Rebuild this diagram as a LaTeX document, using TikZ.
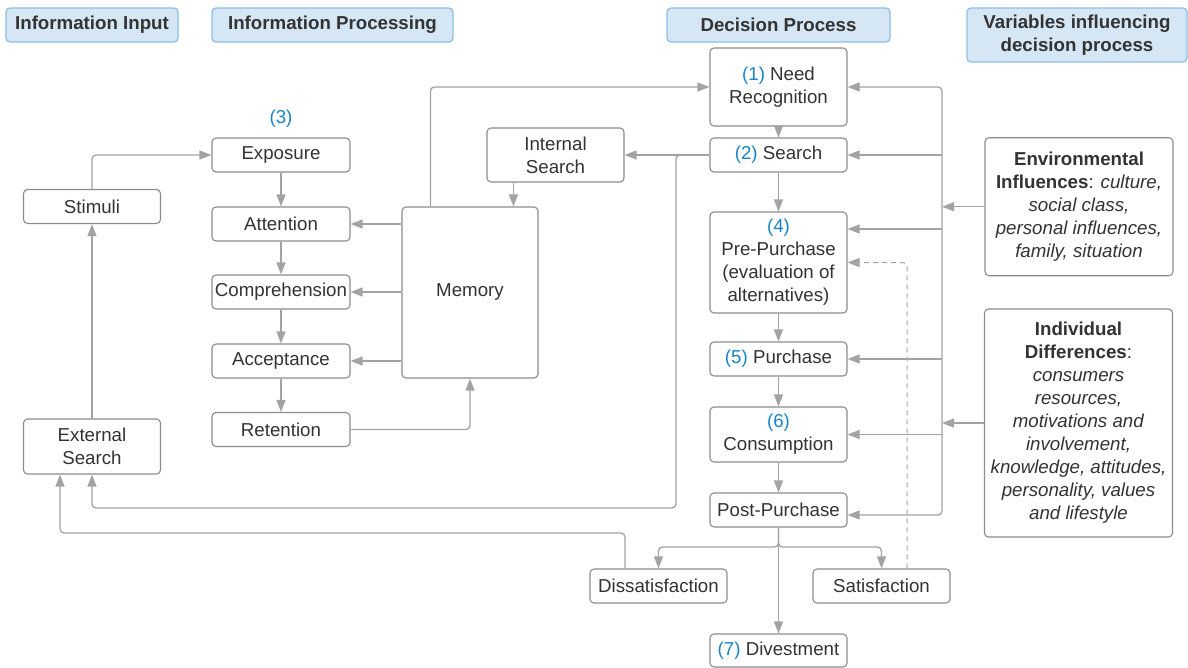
\documentclass[tikz,border=0pt]{standalone}
\usepackage{fontspec}
\setmainfont{Liberation Sans}
\usetikzlibrary{arrows.meta}
\definecolor{txtgray}{HTML}{333333}
\definecolor{boxgray}{HTML}{8C8C8C}
\definecolor{linegray}{HTML}{A3A3A3}
\definecolor{headfill}{HTML}{D5E7F5}
\definecolor{headline}{HTML}{8DBFE8}
\definecolor{numblue}{HTML}{1A84C7}

\begin{document}
\begin{tikzpicture}[x=1pt, y=-1pt,
  every node/.style={font=\fontsize{18.7}{23}\selectfont, text=txtgray, align=center, inner sep=0pt},
  box/.style={draw=boxgray, line width=1.1pt, rounded corners=4pt, fill=white, minimum width=137pt, minimum height=34pt},
  header/.style={draw=headline, fill=headfill, line width=1.3pt, rounded corners=4pt, font=\fontsize{18.7}{23}\selectfont\bfseries, minimum height=34pt},
  conn/.style={draw=linegray, line width=1.3pt, rounded corners=4pt, -{Triangle[length=12pt,width=9pt]}}]
  \useasboundingbox (0,0) rectangle (1188,667);

  \node[header, minimum width=172pt] (inputhd) at (92,25) {Information Input};
  \node[header, minimum width=241pt] (prochd) at (332.5,25) {Information Processing};
  \node[header, minimum width=223pt] (dechd) at (778.5,25) {Decision Process};
  \node[header, minimum width=220pt, minimum height=54pt] (varhd) at (1077,35) {Variables influencing\\decision process};

  \node[box] (stimuli) at (92,206.5) {Stimuli};
  \node[box, minimum height=55pt] (extsearch) at (92,446.5) {External\\Search};

  \node[text=numblue] (lbl3) at (281,119) {(3)};
  \node[box, minimum width=138pt] (exposure) at (281,155) {Exposure};
  \node[box, minimum width=138pt] (attention) at (281,224) {Attention};
  \node[box, minimum width=138pt] (comprehension) at (281,292) {Comprehension};
  \node[box, minimum width=138pt] (acceptance) at (281,361) {Acceptance};
  \node[box, minimum width=138pt] (retention) at (281,429.5) {Retention};
  \node[box, minimum width=136pt, minimum height=171pt] (memory) at (470,292.5) {Memory};
  \node[box, minimum height=54pt] (intsearch) at (555.5,155) {Internal\\Search};

  \node[box, minimum height=78pt] (needrec) at (778.5,87) {\textcolor{numblue}{(1)} Need\\Recognition};
  \node[box] (search) at (778.5,155) {\textcolor{numblue}{(2)} Search};
  \node[box, minimum height=101pt] (prepurchase) at (778.5,262.5) {\textcolor{numblue}{(4)}\\Pre-Purchase\\(evaluation of\\alternatives)};
  \node[box] (purchase) at (778.5,359) {\textcolor{numblue}{(5)} Purchase};
  \node[box, minimum height=55pt] (consumption) at (778.5,434.5) {\textcolor{numblue}{(6)}\\Consumption};
  \node[box] (postpurchase) at (778.5,510) {Post-Purchase};
  \node[box] (dissat) at (658.5,586) {Dissatisfaction};
  \node[box] (satis) at (881.5,586) {Satisfaction};
  \node[box, minimum height=33pt] (divest) at (778.5,650.5) {\textcolor{numblue}{(7)} Divestment};

  \node[box, minimum width=188pt, minimum height=138pt] (envinf) at (1079,206.7) {{\bfseries Environmental}\\{\bfseries Influences}: \textit{culture,}\\\textit{social class,}\\\textit{personal influences,}\\\textit{family, situation}};
  \node[box, minimum width=188pt, minimum height=228pt] (indiv) at (1078.5,423) {{\bfseries Individual}\\{\bfseries Differences}:\\\textit{consumers}\\\textit{resources,}\\\textit{motivations and}\\\textit{involvement,}\\\textit{knowledge, attitudes,}\\\textit{personality, values}\\\textit{and lifestyle}};

  \coordinate (bus) at (942,300);
  \coordinate (srchturn) at (676,508);
  \coordinate (dissturn) at (60,533);
  \coordinate (split) at (778.5,547);
  \coordinate (memin) at ([xshift=27pt]intsearch.south west);
  \coordinate (prein) at ([yshift=33.5pt]prepurchase.east);

  \draw[conn] (stimuli.north) |- (exposure.west);
  \draw[conn] (extsearch.north) -- (stimuli.south);
  \draw[conn] (exposure) -- (attention);
  \draw[conn] (attention) -- (comprehension);
  \draw[conn] (comprehension) -- (acceptance);
  \draw[conn] (acceptance) -- (retention);
  \draw[conn] (memory.west |- attention) -- (attention.east);
  \draw[conn] (memory.west |- comprehension) -- (comprehension.east);
  \draw[conn] (memory.west |- acceptance) -- (acceptance.east);
  \draw[conn] (retention.east) -| (memory.south);
  \draw[conn] ([xshift=29pt]memory.north west) |- (needrec.west);
  \draw[conn] (memin) -- (memin |- memory.north);
  \draw[conn] (search.west) -- (intsearch.east);
  \draw[conn] (search.west) -| (srchturn) -| (extsearch.south);
  \draw[conn] ([xshift=-33.5pt]dissat.north) |- (dissturn) -- (dissturn |- extsearch.south);

  \draw[conn] (needrec) -- (search);
  \draw[conn] (search) -- (prepurchase);
  \draw[conn] (prepurchase) -- (purchase);
  \draw[conn] (purchase) -- (consumption);
  \draw[conn] (consumption) -- (postpurchase);
  \draw[conn] (postpurchase) -- (divest);
  \draw[conn] (postpurchase.south) -- (split) -| (dissat.north);
  \draw[conn] (postpurchase.south) -- (split) -| (satis.north);

  \draw[conn] (bus) |- (needrec.east);
  \draw[conn] (bus) |- ([yshift=-5pt]postpurchase.east);
  \draw[conn] (bus |- search) -- (search.east);
  \draw[conn] (bus |- prein) -- (prein);
  \draw[conn] (bus |- purchase) -- (purchase.east);
  \draw[conn] (bus |- consumption) -- (consumption.east);
  \draw[conn] (envinf.west) -- (envinf.west -| bus);
  \draw[conn] (indiv.west) -- (indiv.west -| bus);
  \draw[conn, line width=1pt, dash pattern=on 5pt off 4pt] ([xshift=25.5pt]satis.north) |- (prepurchase.east);
\end{tikzpicture}
\end{document}
